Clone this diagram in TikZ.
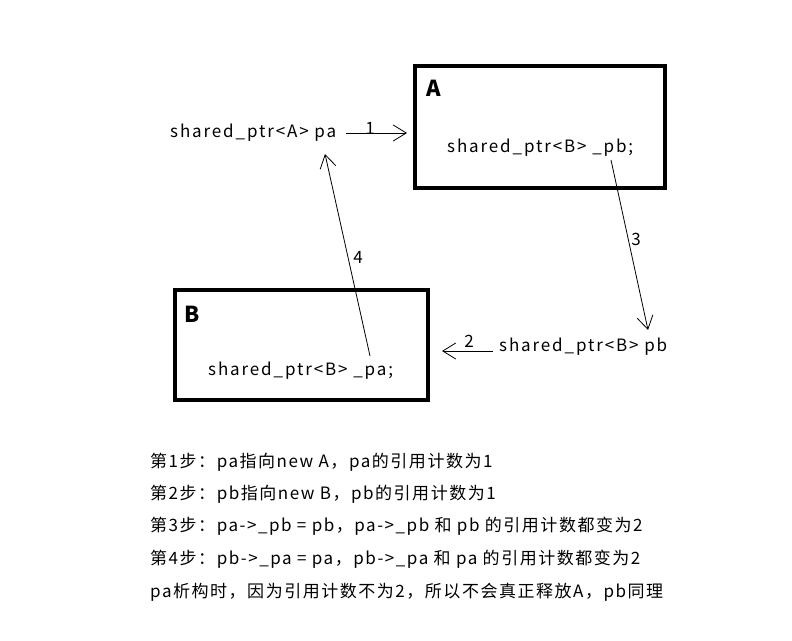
\documentclass[tikz,border=0pt]{standalone}
\usepackage{fontspec}
\setmainfont[LetterSpace=11]{Noto Sans CJK SC}
\newfontfamily\notefont[LetterSpace=9]{Noto Sans CJK SC}
\usetikzlibrary{arrows.meta}
\begin{document}
\begin{tikzpicture}[x=1pt,y=-1pt,
  txt/.style={inner sep=0pt,anchor=west,font=\fontsize{17}{20}\selectfont},
  num/.style={inner sep=0pt,font=\fontsize{17}{20}\selectfont},
  objbox/.style={draw,line width=4.5pt},
  boxlbl/.style={inner sep=0pt,anchor=west,font=\fontsize{22}{26}\selectfont\bfseries},
  arr/.style={-{Straight Barb[length=13pt,width=16pt,line width=0.8pt]},line width=0.8pt},
  note/.style={inner sep=0pt,anchor=west,font=\notefont\fontsize{17}{20}\selectfont}]
\useasboundingbox[fill=white] (0,0) rectangle (792,640);
% boxes
\draw[objbox] (415,66) rectangle (665,188);
\node[inner sep=0pt] (boxA) at (540,127) [minimum width=250pt,minimum height=122pt] {};
\draw[objbox] (175,290) rectangle (428,400);
\node[inner sep=0pt] (boxB) at (301.5,345) [minimum width=253pt,minimum height=110pt] {};
\node[boxlbl] (lA) at (426,88) {A};
\node[boxlbl] (lB) at (184,314) {B};
% texts
\node[txt] (pa) at (170,133) {shared\_ptr<A> pa};
\node[txt] (apb) at (447,148) {shared\_ptr<B> \_pb;};
\node[txt] (pb) at (499,347) {shared\_ptr<B> pb};
\node[txt] (bpa) at (208,371) {shared\_ptr<B> \_pa;};
% coordinates
\coordinate (s1) at (346,133);
\coordinate (e1) at (407,133);
\coordinate (s2) at (493,351);
\coordinate (e2) at (442,351);
\coordinate (s3) at (611,160);
\coordinate (e3) at (648,330);
\coordinate (s4) at (370,356);
\coordinate (e4) at (325,154);
\draw[arr] (s1) -- (e1);
\draw[arr] (s2) -- (e2);
\draw[arr] (s3) -- (e3);
\draw[arr] (s4) -- (e4);
\node[num] (n1) at (370,128) {1};
\node[num] (n2) at (469,341) {2};
\node[num] (n3) at (636,239) {3};
\node[num] (n4) at (358,257) {4};
% notes
\node[note] (t1) at (150,462) {第1步：pa指向new A，pa的引用计数为1};
\node[note] (t2) at (150,494) {第2步：pb指向new B，pb的引用计数为1};
\node[note] (t3) at (150,526) {第3步：pa->\_pb = pb，pa->\_pb 和 pb 的引用计数都变为2};
\node[note] (t4) at (150,559) {第4步：pb->\_pa = pa，pb->\_pa 和 pa 的引用计数都变为2};
\node[note] (t5) at (150,592) {pa析构时，因为引用计数不为2，所以不会真正释放A，pb同理};
\end{tikzpicture}
\end{document}
